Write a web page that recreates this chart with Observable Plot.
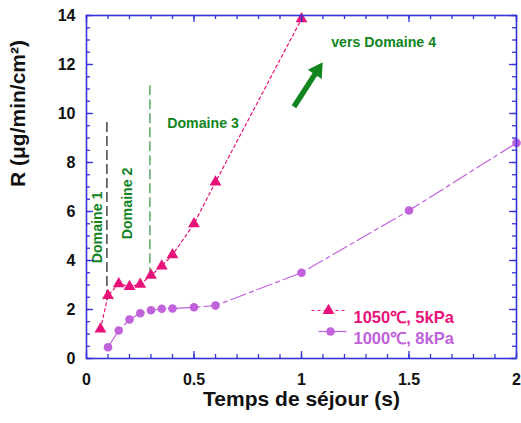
<!DOCTYPE html>
<html><head><meta charset="utf-8">
<script src="https://cdn.jsdelivr.net/npm/d3@7"></script>
<script src="https://cdn.jsdelivr.net/npm/@observablehq/plot@0.6"></script>
<style>
body{margin:0;background:#fff;}
#wrap svg{font-family:"Liberation Sans",Arial,sans-serif;}
</style>
</head><body><div id="wrap"></div>
<script>
// Series 1: 1050°C, 5kPa (triangles)
const t1050 = [0.065, 0.1, 0.15, 0.2, 0.25, 0.3, 0.35, 0.4, 0.5, 0.6, 1.0];
const r1050 = [1.2, 2.57, 3.05, 2.94, 3.03, 3.39, 3.77, 4.23, 5.5, 7.2, 13.86];
// Series 2: 1000°C, 8kPa (circles)
const t1000 = [0.1, 0.15, 0.2, 0.25, 0.3, 0.35, 0.4, 0.5, 0.6, 1.0, 1.5, 2.0];
const r1000 = [0.46, 1.14, 1.59, 1.85, 1.97, 2.03, 2.04, 2.09, 2.16, 3.5, 6.04, 8.8];
const seriesNames = ["1050℃, 5kPa", "1000℃, 8kPa"];
// Axis ticks
const xTicks = [0, 0.5, 1, 1.5, 2];
const xMinorTicks = [0,0.1,0.2,0.3,0.4,0.5,0.6,0.7,0.8,0.9,1,1.1,1.2,1.3,1.4,1.5,1.6,1.7,1.8,1.9,2];
const yTicks = [0, 2, 4, 6, 8, 10, 12, 14];
const yMinorTicks = [0,0.5,1,1.5,2,2.5,3,3.5,4,4.5,5,5.5,6,6.5,7,7.5,8,8.5,9,9.5,10,10.5,11,11.5,12,12.5,13,13.5,14];
const xTitle = "Temps de séjour (s)";
const yTitle = "R (μg/min/cm²)";
// Domain boundaries (vertical dashed lines)
const boundX = [0.095, 0.295];
const boundY1 = [2.37, 3.3];
const boundY2 = [9.8, 11.14];
const boundColor = ["#000000", "#1a8a2a"];
// Annotations
const annText = ["Domaine 1", "Domaine 2", "Domaine 3", "vers Domaine 4"];
const annX = [0.053, 0.19, 0.542, 1.382];
const annY = [5.35, 6.33, 9.6, 12.91];
const annRotate = [-90, -90, 0, 0];
// Arrow towards domain 4
const arrowX = [0.965, 1.074];
const arrowY = [10.28, 11.76];

const pink = "#e8137a", purple = "#c062dc", green = "#13851f", blue = "#3434d8";
const s1050 = t1050.map((t, i) => ({t, r: r1050[i]}));
const s1000 = t1000.map((t, i) => ({t, r: r1000[i]}));
const bounds = boundX.map((x, i) => ({x, y1: boundY1[i], y2: boundY2[i], c: boundColor[i]}));
const anns = annText.map((text, i) => ({text, x: annX[i], y: annY[i], rot: annRotate[i]}));
const arrow = [{x1: arrowX[0], y1: arrowY[0], x2: arrowX[1], y2: arrowY[1]}];

const W = 521, H = 423, mL = 86, mR = 5, mT = 15, mB = 65;
const fw = W - mL - mR, fh = H - mT - mB;
// inward ticks: full-frame rules inset down to a short stub at one edge
const tkX = (ticks, edge, len) => Plot.ruleX(ticks, {x: d => d, stroke: blue, strokeWidth: 1.3,
  insetTop: edge === "bottom" ? fh - len : 0, insetBottom: edge === "top" ? fh - len : 0});
const tkY = (ticks, edge, len) => Plot.ruleY(ticks, {y: d => d, stroke: blue, strokeWidth: 1.3,
  insetRight: edge === "left" ? fw - len : 0, insetLeft: edge === "right" ? fw - len : 0});
// legend swatch: a horizontal line symbol
const hline = half => ({draw(ctx) { ctx.moveTo(-half, 0); ctx.lineTo(half, 0); }});
const legendRow = (name, color, dash, symbol, lineDx, half, markDx, dy, textDy) => [
  Plot.dot([name], {frameAnchor: "top-left", dx: lineDx, dy, symbol: hline(half), r: 5, fill: "none", stroke: color, strokeWidth: 1.2, strokeDasharray: dash}),
  Plot.dot([name], {frameAnchor: "top-left", dx: markDx, dy, symbol, r: symbol === "circle" ? 4.3 : 4.4, fill: color, stroke: "none"}),
  Plot.text([name], {frameAnchor: "top-left", dx: 267, dy: textDy, text: d => d, textAnchor: "start", fill: color, fontSize: 16.5, fontWeight: "bold"})
];

const chart = Plot.plot({
  width: W, height: H,
  marginLeft: mL, marginRight: mR, marginTop: mT, marginBottom: mB,
  x: {domain: [0, 2]},
  y: {domain: [0, 14]},
  marks: [
    // tick labels
    Plot.axisX({anchor: "bottom", ticks: xTicks, tickFormat: d => String(d), tickSize: 0, tickPadding: 15, fontSize: 16, fontWeight: "bold", fill: "#111", label: null}),
    Plot.axisY({anchor: "left", ticks: yTicks, tickFormat: d => String(d), tickSize: 0, tickPadding: 11, fontSize: 16, fontWeight: "bold", fill: "#111", label: null}),
    // axis titles
    Plot.text([xTitle], {text: d => d, frameAnchor: "bottom", dy: 47, fontSize: 21, fontWeight: "bold", fill: "#111"}),
    Plot.text([yTitle], {text: d => d, frameAnchor: "left", dx: -68, rotate: -90, fontSize: 21, fontWeight: "bold", fill: "#111"}),
    // domain boundaries
    Plot.ruleX(bounds, {x: "x", y1: "y1", y2: "y2", stroke: "c", strokeDasharray: "10,4", strokeWidth: 1.1}),
    // annotations
    Plot.text(anns, {x: "x", y: "y", text: "text", rotate: "rot", fill: green, fontSize: 14.2, fontWeight: "bold"}),
    Plot.link(arrow, {x1: "x1", y1: "y1", x2: "x2", y2: "y2", stroke: green, strokeWidth: 5.5}),
    Plot.dot([arrow[0]], {x: "x2", y: "y2", symbol: "triangle", r: 6.2, fill: green, rotate: 33.7}),
    // series
    Plot.line(s1000, {x: "t", y: "r", stroke: purple, strokeWidth: 1.2, strokeDasharray: "16,4,4,4"}),
    Plot.dot(s1000, {x: "t", y: "r", r: 4.3, fill: purple}),
    Plot.line(s1050, {x: "t", y: "r", stroke: pink, strokeWidth: 1.2, strokeDasharray: "3,3"}),
    Plot.dot(s1050, {x: "t", y: "r", symbol: "triangle", r: 4.4, fill: pink}),
    // legend
    ...legendRow(seriesNames[0], pink, "3,3", "triangle", 242, 17, 242, 295, 296.2),
    ...legendRow(seriesNames[1], purple, "none", "circle", 246, 14, 244, 316, 317.2),
    // frame and inward ticks last
    Plot.frame({stroke: blue, strokeWidth: 1.6}),
    tkX(xMinorTicks, "bottom", 4), tkX(xTicks, "bottom", 7),
    tkX(xMinorTicks, "top", 4), tkX(xTicks, "top", 7),
    tkY(yMinorTicks, "left", 4), tkY(yTicks, "left", 7),
    tkY(yMinorTicks, "right", 4), tkY(yTicks, "right", 7)
  ]
});
document.getElementById("wrap").appendChild(chart);
</script></body></html>
